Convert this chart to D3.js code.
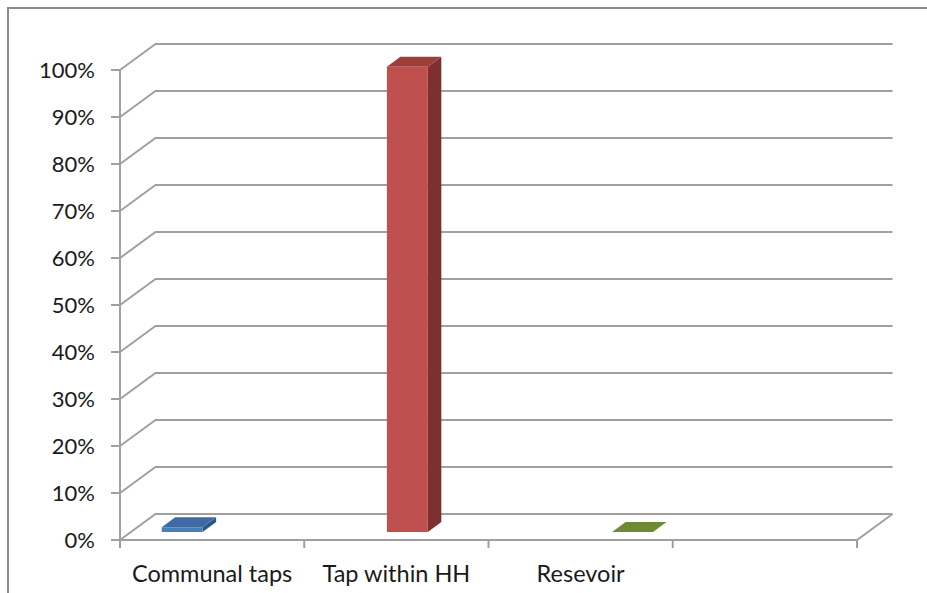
<!DOCTYPE html>
<html>
<head>
<meta charset="utf-8">
<script src="https://cdn.jsdelivr.net/npm/d3@7"></script>
<style>
  html, body { margin: 0; padding: 0; background: #fff; }
  svg { display: block; }
  text { font-family: Lato, "Open Sans", sans-serif; fill: #1a1a1a; }
</style>
</head>
<body>
<svg id="chart" width="927" height="593"></svg>
<script>
// Water source shares (percent of households)
const categories = ["Communal taps", "Tap within HH", "Resevoir", ""];
const seriesNames = ["Communal taps", "Tap within HH", "Resevoir"];
const seriesValues = [1, 99, 0];
const tickValues = [0, 10, 20, 30, 40, 50, 60, 70, 80, 90, 100];
const tickLabels = tickValues.map(v => v + "%");

const colors = [
  { front: "#4A7EBB", top: "#3E6BA3", side: "#30557F" },
  { front: "#C0504D", top: "#9E3E3B", side: "#7D302E" },
  { front: "#77933C", top: "#6E8A36", side: "#55692A" }
];

const svg = d3.select("#chart");

// Outer chart frame (only left and top edges fall inside the view)
svg.append("path")
  .attr("d", "M8,600 L8,8 L940,8")
  .attr("fill", "none")
  .attr("stroke", "#8c8c8c")
  .attr("stroke-width", 2);

// Front plane scales and depth vector of the 3D box
const x0 = d3.scaleBand().domain(d3.range(categories.length)).range([120, 857]).padding(0);
const y = d3.scaleLinear().domain([0, 100]).range([540, 70]);
const depth = { dx: 35.5, dy: -26 };
const barDepth = [0.31, 0.69];

const x1 = d3.scaleBand().domain(d3.range(seriesNames.length))
  .range([0, x0.bandwidth()]).paddingInner(0).paddingOuter(0.75);

const P = (x, yy, f) => [x + depth.dx * f, yy + depth.dy * f];
const poly = pts => "M" + pts.map(p => p.join(",")).join("L") + "Z";

const grid = svg.append("g").attr("fill", "none").attr("stroke", "#a0a0a0").attr("stroke-width", 2);

// Side wall + back wall gridlines
tickValues.forEach(t => {
  const a = P(120, y(t), 0), b = P(120, y(t), 1), c = P(857, y(t), 1);
  grid.append("path").attr("d", `M${a}L${b}L${c}`);
});

// Floor front edge and right edge
const f0 = P(120, y(0), 0), f1 = P(857, y(0), 0), f2 = P(857, y(0), 1);
grid.append("path").attr("d", `M${f0}L${f1}L${f2}`);

// Value axis line and ticks
grid.append("line").attr("x1", 120).attr("x2", 120).attr("y1", y(100)).attr("y2", y(0));
tickValues.forEach(t => {
  grid.append("line").attr("x1", 111).attr("x2", 120).attr("y1", y(t)).attr("y2", y(t));
});

// Category ticks
const catEdges = categories.map((c, i) => x0(i)).concat([x0.range()[1]]);
catEdges.forEach(xe => {
  grid.append("line").attr("x1", xe).attr("x2", xe).attr("y1", y(0)).attr("y2", y(0) + 8);
});

// Value labels
svg.append("g").selectAll("text").data(tickValues).join("text")
  .attr("x", 95).attr("y", d => y(d) + 8)
  .attr("text-anchor", "end")
  .attr("font-size", 22)
  .text((d, i) => tickLabels[i]);

// Category labels
svg.append("g").selectAll("text").data(categories).join("text")
  .attr("x", (d, i) => x0(i) + x0.bandwidth() / 2)
  .attr("y", 582)
  .attr("text-anchor", "middle")
  .attr("font-size", 23.5)
  .text(d => d);

// 3D columns: each series sits in its own slot of its own category
const bars = svg.append("g");
seriesValues.forEach((v, i) => {
  const xl = x0(i) + x1(i), xr = xl + x1.bandwidth();
  const yb = y(0), yt = y(v);
  const [fa, fb] = barDepth;
  const c = colors[i];
  // right side face
  bars.append("path").attr("fill", c.side)
    .attr("d", poly([P(xr, yb, fa), P(xr, yb, fb), P(xr, yt, fb), P(xr, yt, fa)]));
  // top face
  bars.append("path").attr("fill", c.top)
    .attr("d", poly([P(xl, yt, fa), P(xr, yt, fa), P(xr, yt, fb), P(xl, yt, fb)]));
  // front face
  bars.append("path").attr("fill", c.front)
    .attr("d", poly([P(xl, yb, fa), P(xr, yb, fa), P(xr, yt, fa), P(xl, yt, fa)]));
});
</script>
</body>
</html>
